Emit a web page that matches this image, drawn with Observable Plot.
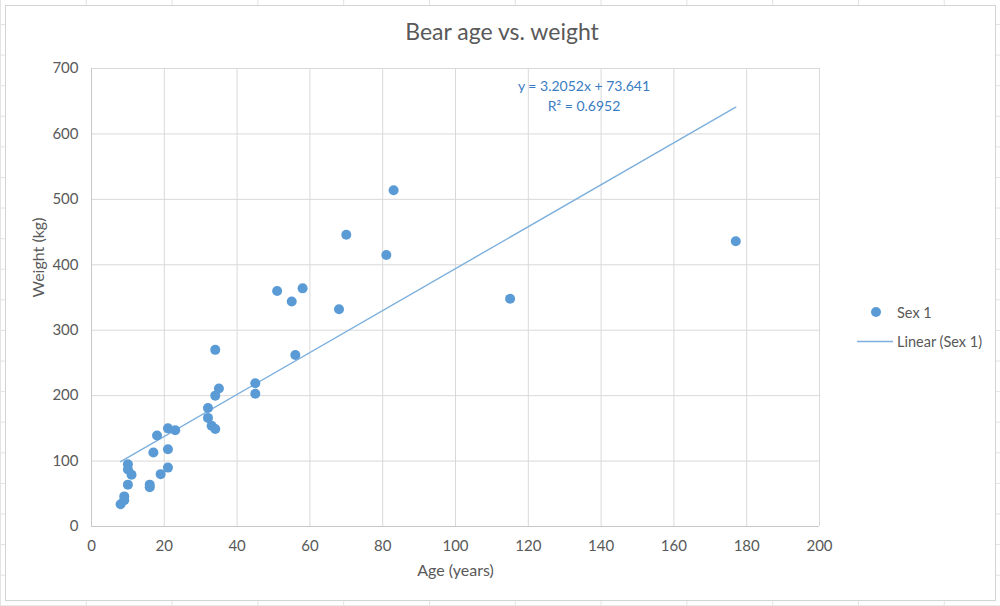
<!DOCTYPE html>
<html>
<head>
<meta charset="utf-8">
<script src="https://cdn.jsdelivr.net/npm/d3@7"></script>
<script src="https://cdn.jsdelivr.net/npm/@observablehq/plot@0.6"></script>
<style>
  html, body { margin: 0; padding: 0; }
  body {
    width: 1000px; height: 606px; overflow: hidden; position: relative;
    background-color: #fff;
    background-image:
      linear-gradient(to right, #e3e3e3 1px, transparent 1px),
      linear-gradient(to bottom, #e3e3e3 1px, transparent 1px);
    background-size: 85.8px 30.6px;
    background-position: 0 0, 0 24px;
    font-family: Lato, "Open Sans", sans-serif;
    color: #595959;
  }
  #box { position: absolute; left: 5px; top: 5px; width: 989px; height: 594px; background: #fff; border: 1px solid #d4d4d4; }
  #title { position: absolute; left: 0; width: 1004px; top: 17px; text-align: center; font-size: 23px; color: #595959; }
  #plot { position: absolute; left: 0; top: 0; }
  #eq { position: absolute; left: 484px; width: 200px; top: 76px; text-align: center; font-size: 14px; line-height: 20px; color: #3a7cc2; }
  .leg { position: absolute; left: 850px; font-size: 14.5px; color: #595959; display: flex; align-items: center; }
</style>
</head>
<body>
<div id="box"></div>
<div id="title"></div>
<div id="plot"></div>
<div id="eq"></div>
<div class="leg" id="leg1" style="top:302px"></div>
<div class="leg" id="leg2" style="top:331px"></div>
<script>
// Data
const ages    = [8, 9, 9, 10, 10, 10, 11, 16, 16, 19, 21, 17, 21, 18, 21, 23, 32, 32, 33, 34, 34, 35, 45, 45, 34, 56, 51, 58, 55, 68, 70, 81, 83, 115, 177];
const weights = [34, 40, 46, 64, 87, 95, 79, 60, 64, 80, 90, 113, 118, 139, 150, 147, 181, 166, 154, 149, 200, 211, 219, 203, 270, 262, 360, 364, 344, 332, 446, 415, 514, 348, 436];
const seriesName = "Sex 1";
const trendName = "Linear (Sex 1)";
const slope = 3.2052;
const intercept = 73.641;
const rSquared = 0.6952;
const xTicks = [0, 20, 40, 60, 80, 100, 120, 140, 160, 180, 200];
const yTicks = [0, 100, 200, 300, 400, 500, 600, 700];
const titleText = "Bear age vs. weight";
const xLabel = "Age (years)";
const yLabel = "Weight (kg)";

const pointColor = "#5B9BD5";
const lineColor = "#7DB0DD";

const data = ages.map((a, i) => ({age: a, weight: weights[i]}));
const xExt = d3.extent(ages);
const trend = xExt.map(a => ({age: a, weight: slope * a + intercept}));

const chart = Plot.plot({
  width: 1000,
  height: 606,
  marginLeft: 91,
  marginRight: 181,
  marginTop: 68,
  marginBottom: 80,
  style: {background: "transparent", fontFamily: "Lato, 'Open Sans', sans-serif", fontSize: "15px", color: "#595959", overflow: "visible"},
  x: {domain: [0, 200]},
  y: {domain: [0, 700]},
  marks: [
    Plot.gridX(xTicks, {stroke: "#d9d9d9", strokeOpacity: 1}),
    Plot.gridY(yTicks, {stroke: "#d9d9d9", strokeOpacity: 1}),
    Plot.ruleY([0], {stroke: "#c8c8c8"}),
    Plot.ruleX([0], {stroke: "#c8c8c8"}),
    Plot.axisX(xTicks, {tickSize: 0, tickPadding: 14, label: null, fill: "#595959", fontSize: 15}),
    Plot.axisY(yTicks, {tickSize: 0, tickPadding: 13, label: null, fill: "#595959", fontSize: 15}),
    Plot.text([xLabel], {text: d => d, frameAnchor: "bottom", dy: 49, fill: "#595959", fontSize: 16}),
    Plot.text([yLabel], {text: d => d, frameAnchor: "left", dx: -53, rotate: -90, fill: "#595959", fontSize: 16}),
    Plot.line(trend, {x: "age", y: "weight", stroke: lineColor, strokeWidth: 1.4}),
    Plot.dot(data, {x: "age", y: "weight", r: 5, fill: pointColor})
  ]
});
document.getElementById("plot").appendChild(chart);

document.getElementById("title").textContent = titleText;
document.getElementById("eq").innerHTML =
  `y = ${slope}x + ${intercept}<br>R² = ${rSquared}`;

document.getElementById("leg1").innerHTML =
  `<svg width="44" height="20"><circle cx="26" cy="10" r="5" fill="${pointColor}"></circle></svg><span style="margin-left:3px">${seriesName}</span>`;
document.getElementById("leg2").innerHTML =
  `<svg width="44" height="20"><line x1="7" x2="43" y1="10.5" y2="10.5" stroke="${lineColor}" stroke-width="1.4"></line></svg><span style="margin-left:3px">${trendName}</span>`;
</script>
</body>
</html>
